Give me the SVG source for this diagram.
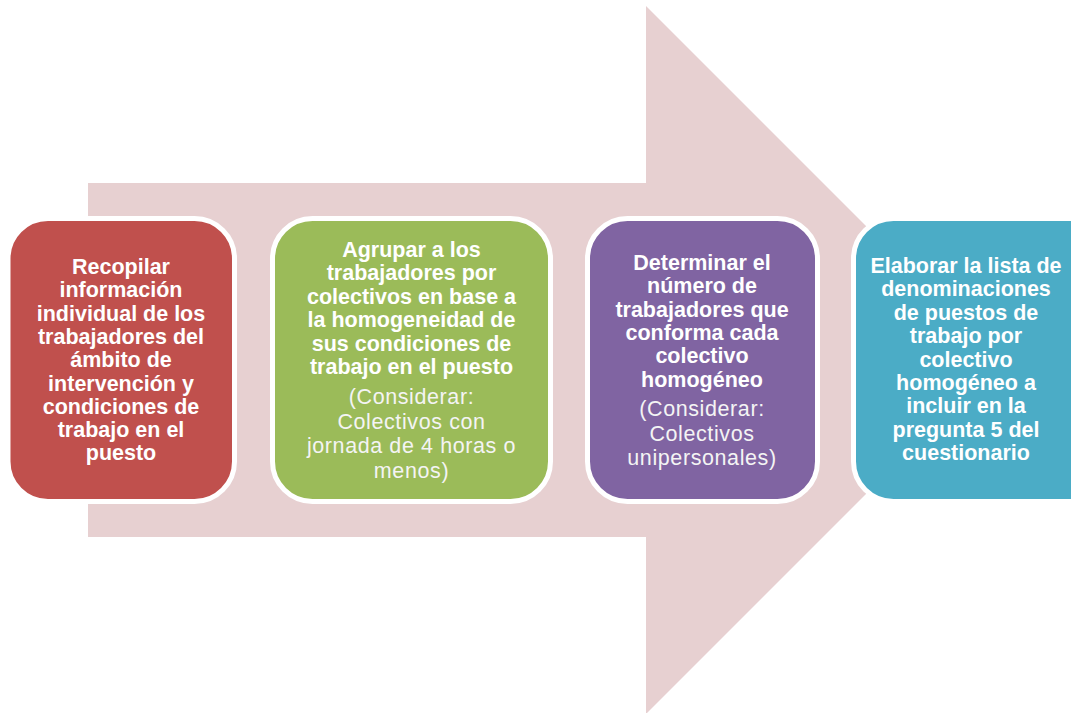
<svg xmlns="http://www.w3.org/2000/svg" width="1071" height="713" viewBox="0 0 1071 713">
<style>
.box{stroke:#FFFFFF;stroke-width:5}
.t{font-family:"Liberation Sans",Arial,sans-serif;font-size:21.5px;font-weight:bold;fill:#FFFFFF;text-anchor:middle}
.n{font-family:"Liberation Sans",Arial,sans-serif;font-size:21.5px;font-weight:normal;fill:#F4F4F4;text-anchor:middle;letter-spacing:0.6px}
</style>
<rect width="1071" height="713" fill="#FFFFFF"/>
<g id="connectors">
<polygon points="88,183 646,183 646,6 1000,360 646,714 646,537 88,537" fill="#E7D0D1"/>
</g>
<g id="node1">
<rect class="box" x="8" y="218.5" width="226.5" height="283" rx="40" fill="#C0504D"/>
<text class="t" x="121" y="274">Recopilar</text>
<text class="t" x="121" y="297.3">información</text>
<text class="t" x="121" y="320.6">individual de los</text>
<text class="t" x="121" y="343.9">trabajadores del</text>
<text class="t" x="121" y="367.2">ámbito de</text>
<text class="t" x="121" y="390.5">intervención y</text>
<text class="t" x="121" y="413.8">condiciones de</text>
<text class="t" x="121" y="437.1">trabajo en el</text>
<text class="t" x="121" y="460.4">puesto</text>
</g>
<g id="node2">
<rect class="box" x="272.5" y="218.5" width="278" height="283" rx="40" fill="#9BBB59"/>
<text class="t" x="411.5" y="257">Agrupar a los</text>
<text class="t" x="411.5" y="280.4">trabajadores por</text>
<text class="t" x="411.5" y="303.8">colectivos en base a</text>
<text class="t" x="411.5" y="327.2">la homogeneidad de</text>
<text class="t" x="411.5" y="350.6">sus condiciones de</text>
<text class="t" x="411.5" y="374">trabajo en el puesto</text>
<text class="n" x="411.5" y="404">(Considerar:</text>
<text class="n" x="411.5" y="428.5">Colectivos con</text>
<text class="n" x="411.5" y="453">jornada de 4 horas o</text>
<text class="n" x="411.5" y="477.5">menos)</text>
</g>
<g id="node3">
<rect class="box" x="587.5" y="218.5" width="230" height="283" rx="40" fill="#8064A2"/>
<text class="t" x="702" y="270">Determinar el</text>
<text class="t" x="702" y="293.3">número de</text>
<text class="t" x="702" y="316.6">trabajadores que</text>
<text class="t" x="702" y="339.9">conforma cada</text>
<text class="t" x="702" y="363.2">colectivo</text>
<text class="t" x="702" y="386.5">homogéneo</text>
<text class="n" x="702" y="416">(Considerar:</text>
<text class="n" x="702" y="440.5">Colectivos</text>
<text class="n" x="702" y="465">unipersonales)</text>
</g>
<g id="node4">
<rect class="box" x="853.5" y="218.5" width="260" height="283" rx="40" fill="#4BACC6"/>
<text class="t" x="966" y="273">Elaborar la lista de</text>
<text class="t" x="966" y="296.4">denominaciones</text>
<text class="t" x="966" y="319.8">de puestos de</text>
<text class="t" x="966" y="343.2">trabajo por</text>
<text class="t" x="966" y="366.6">colectivo</text>
<text class="t" x="966" y="390">homogéneo a</text>
<text class="t" x="966" y="413.4">incluir en la</text>
<text class="t" x="966" y="436.8">pregunta 5 del</text>
<text class="t" x="966" y="460.2">cuestionario</text>
</g>
</svg>
